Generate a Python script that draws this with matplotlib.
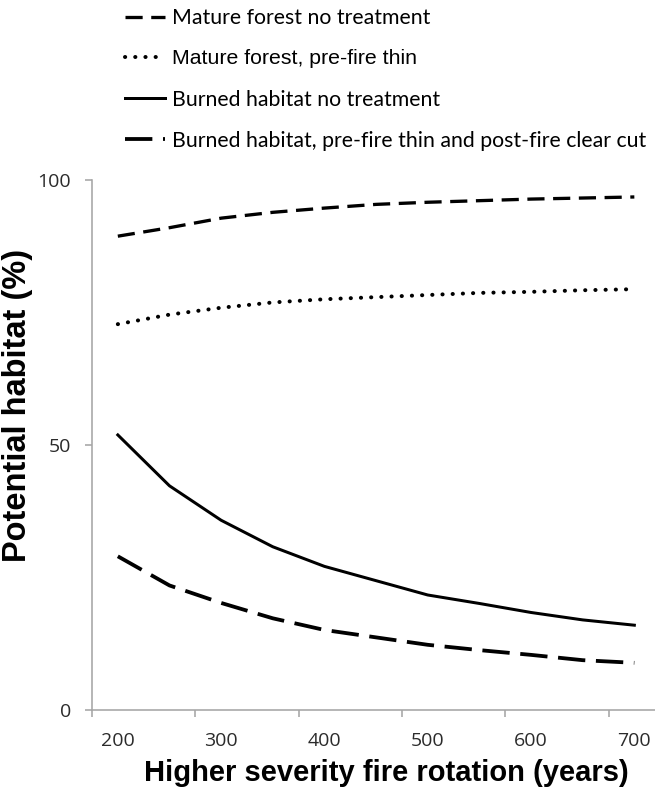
import matplotlib
matplotlib.use("Agg")
import matplotlib.pyplot as plt
import numpy as np

# fire rotation (years) and potential habitat (%) for each scenario
rotation = [200, 250, 300, 350, 400, 450, 500, 550, 600, 650, 700]
mature_none = [89.4, 91.0, 92.8, 93.9, 94.7, 95.4, 95.8, 96.1, 96.4, 96.6, 96.8]
mature_thin = [72.8, 74.6, 75.9, 76.9, 77.5, 77.9, 78.3, 78.7, 78.9, 79.2, 79.4]
burned_none = [51.9, 42.3, 35.8, 30.8, 27.1, 24.4, 21.7, 20.1, 18.4, 17.0, 16.0]
burned_cut = [29.0, 23.5, 20.2, 17.3, 15.1, 13.7, 12.3, 11.3, 10.4, 9.4, 8.9]

labels = ["Mature forest no treatment",
          "Mature forest, pre-fire thin",
          "Burned habitat no treatment",
          "Burned habitat, pre-fire thin and post-fire clear cut"]
x_labels = ["200", "300", "400", "500", "600", "700"]
y_labels = ["0", "50", "100"]

W, H = 655, 791
fig = plt.figure(figsize=(W / 100, H / 100), dpi=100, facecolor="white")
ax = fig.add_axes([92 / W, 1 - 710 / H, 1 - 92 / W, (710 - 180) / H])

axis_grey = "#a6a6a6"
px = 72 / 100  # one pixel in points

l1, = ax.plot(rotation, mature_none, color="black", lw=3.3 * px,
              linestyle=(0, (5.2, 2.6)), label=labels[0])
l2, = ax.plot(rotation, mature_thin, color="black", lw=4.0 * px,
              linestyle=(0, (0.05, 2.5)), dash_capstyle="round", label=labels[1])
l3, = ax.plot(rotation, burned_none, color="black", lw=3.0 * px,
              linestyle="-", label=labels[2])
l4, = ax.plot(rotation, burned_cut, color="black", lw=3.8 * px,
              linestyle=(0, (7.2, 2.8)), label=labels[3])

ax.set_xlim(175, 720)
ax.set_ylim(0, 100)

for side in ["top", "right"]:
    ax.spines[side].set_visible(False)
for side in ["left", "bottom"]:
    ax.spines[side].set_color(axis_grey)
    ax.spines[side].set_linewidth(1.6 * px)

# labels sit on the data positions, tick marks sit half a step to the left
ax.set_xticks([int(v) for v in x_labels])
ax.set_xticklabels(x_labels)
ax.set_xticks(np.arange(175, 700, 100), minor=True)
ax.tick_params(axis="x", which="major", length=0, pad=16)
ax.tick_params(axis="x", which="minor", length=7 * px, width=1.6 * px,
               color=axis_grey, direction="out")
ax.set_yticks([int(v) for v in y_labels])
ax.set_yticklabels(y_labels)
ax.tick_params(axis="y", length=7 * px, width=1.6 * px, color=axis_grey,
               direction="out", pad=10)
for t in ax.get_xticklabels() + ax.get_yticklabels():
    t.set_fontfamily("Open Sans")
    t.set_fontsize(14)
    t.set_color("#2b2b2b")

ax.set_xlabel("Higher severity fire rotation (years)", family="Liberation Sans",
              fontsize=21, fontweight="bold", va="baseline")
ax.xaxis.set_label_coords(0.522, -0.134)
ax.set_ylabel("Potential habitat (%)", family="Liberation Sans",
              fontsize=23.5, fontweight="bold", va="center")
ax.yaxis.set_label_coords(-0.133, 0.574)

leg = fig.legend(handles=[l1, l2, l3, l4], loc="upper left",
                 bbox_to_anchor=(125 / W, 1 - 8 / H), frameon=False,
                 prop={"family": "Lato", "size": 15.3},
                 handlelength=1.88, handletextpad=0.33, labelspacing=1.0,
                 borderpad=0, borderaxespad=0)
leg.get_texts()[1].set_fontfamily("Liberation Sans")

fig.savefig("out.png", dpi=100, facecolor="white")
